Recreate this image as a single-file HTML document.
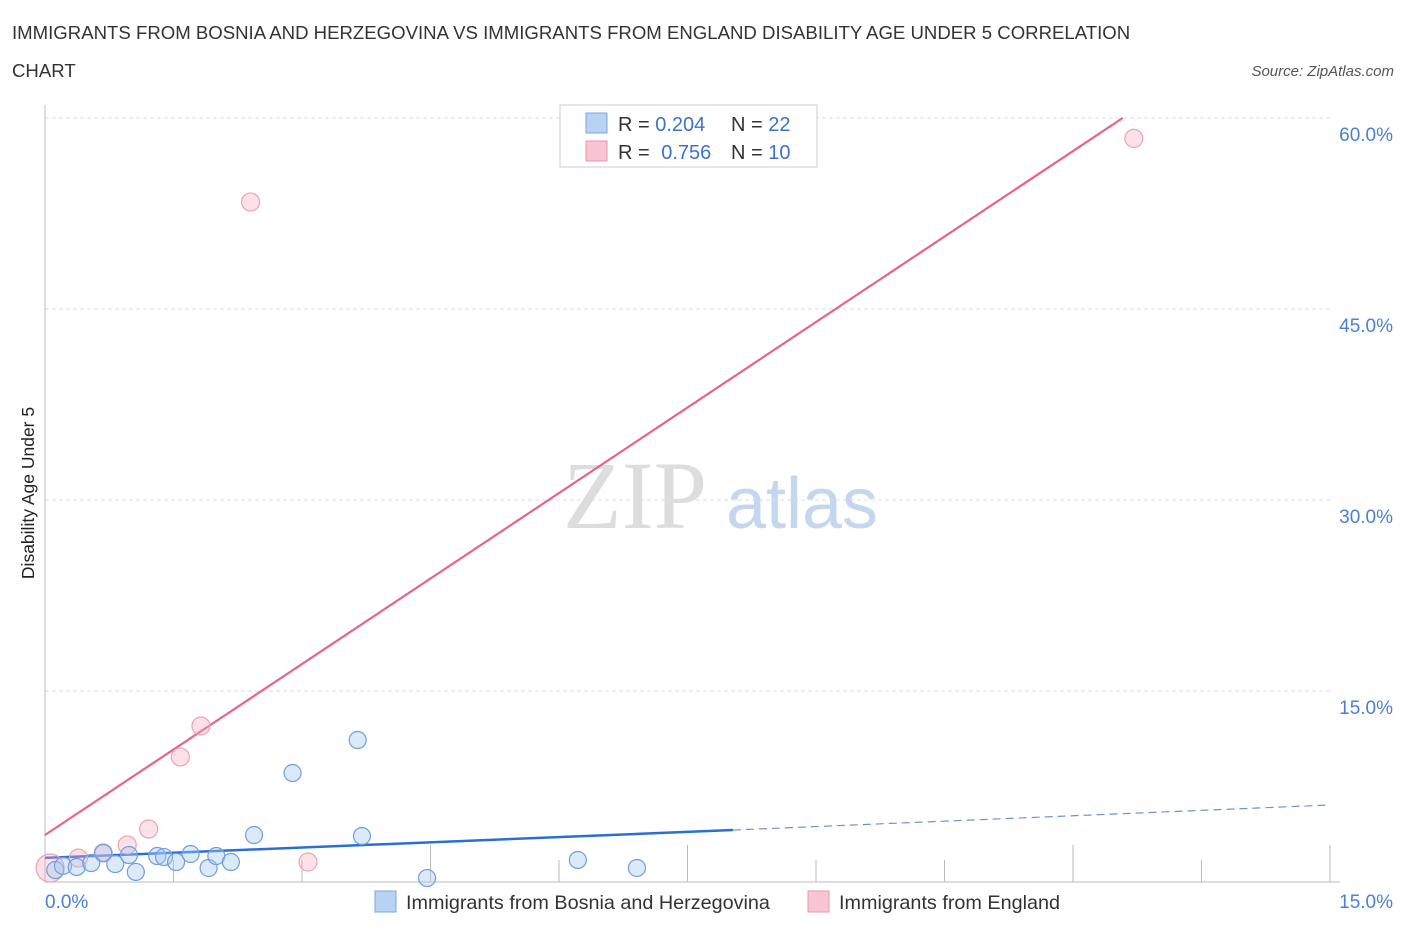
<!DOCTYPE html>
<html><head><meta charset="utf-8"><style>
body{margin:0;background:#fff;font-family:"Liberation Sans",sans-serif;}
</style></head><body>
<svg id="chart" width="1406" height="930" viewBox="0 0 1406 930" xmlns="http://www.w3.org/2000/svg" font-family="Liberation Sans, sans-serif">
<text x="12" y="39" font-size="18.6" fill="#333">IMMIGRANTS FROM BOSNIA AND HERZEGOVINA VS IMMIGRANTS FROM ENGLAND DISABILITY AGE UNDER 5 CORRELATION</text>
<text x="12" y="77" font-size="18.6" fill="#333">CHART</text>
<text x="1394" y="76" font-size="15" fill="#555" font-style="italic" text-anchor="end">Source: ZipAtlas.com</text>
<g>
<text x="635" y="528" font-size="96" fill="#ddd" style="font-family:'Liberation Serif',serif" text-anchor="middle">ZIP</text>
<text x="802" y="528" font-size="72" fill="#c5d7ef" text-anchor="middle">atlas</text>
</g>
<g id="grid"></g>
<g id="axes"></g>
<text transform="translate(34,493) rotate(-90)" font-size="17.5" fill="#222" text-anchor="middle">Disability Age Under 5</text>
<g id="lines"></g>
<g id="points"></g>
<g>
<rect x="560" y="105" width="257" height="62" fill="#fff" stroke="#ccc"/>
<rect x="586" y="113" width="21" height="20" fill="#b8d2f3" stroke="#7aa6e0"/>
<rect x="586" y="141" width="21" height="20" fill="#f9c5d3" stroke="#e995ad"/>
<text x="618" y="131" font-size="20" fill="#333">R = <tspan fill="#3b73c9">0.204</tspan><tspan x="731">N = </tspan><tspan fill="#3b73c9">22</tspan></text>
<text x="618" y="159" font-size="20" fill="#333">R = <tspan fill="#3b73c9" dx="6">0.756</tspan><tspan x="731">N = </tspan><tspan fill="#3b73c9">10</tspan></text>
</g>
<g>
<rect x="375" y="891" width="21" height="21" fill="#b8d2f3" stroke="#7aa6e0"/>
<text x="406" y="909" font-size="19.8" fill="#333">Immigrants from Bosnia and Herzegovina</text>
<rect x="808" y="891" width="21" height="21" fill="#f9c5d3" stroke="#e995ad"/>
<text x="839" y="909" font-size="19.8" fill="#333">Immigrants from England</text>
</g>
<script>
const blueX=[0.12,0.21,0.37,0.54,0.68,0.82,0.98,1.06,1.31,1.39,1.53,1.70,1.91,2.00,2.17,2.44,2.89,3.65,3.70,4.46,6.22,6.91];
const blueY=[0.94,1.26,1.18,1.49,2.28,1.41,2.12,0.79,2.04,1.96,1.57,2.20,1.10,2.04,1.57,3.69,8.56,11.15,3.61,0.31,1.73,1.10];
const pinkX=[0.06,0.39,0.68,0.96,1.21,1.58,1.82,2.40,3.07,12.71];
const pinkY=[1.10,1.88,2.28,2.91,4.16,9.82,12.25,53.4,1.57,58.4];
const pinkR=[14,9,9,9,9,9,9,9,9,9];
const yTicks=[15,30,45,60];
const yTickLabels=["15.0%","30.0%","45.0%","60.0%"];
const blueTrend=[1.89,4.08,6.05];
const blueTrendX=[0,8.03,15];
const pinkTrend=[3.69,60];
const pinkTrendX=[0,12.58];
const X0=45,X1=1330,Y0=882;
function sx(v){return X0+v*(X1-X0)/15;}
function sy(v){return Y0-v*12.733;}
const NS="http://www.w3.org/2000/svg";
function mk(tag,attrs,parent){const e=document.createElementNS(NS,tag);for(const k in attrs)e.setAttribute(k,attrs[k]);parent.appendChild(e);return e;}
const grid=document.getElementById('grid'),axes=document.getElementById('axes'),lines=document.getElementById('lines'),pts=document.getElementById('points');
yTicks.forEach((t,i)=>{
 const l=mk('line',{x1:X0,x2:X1,y1:sy(t),y2:sy(t),stroke:'#ddd','stroke-dasharray':'4,3'},grid);
 
 
 const tx=mk('text',{x:1393,y:sy(t)+23,'font-size':19,fill:'#4a80d4','text-anchor':'end'},axes);
 tx.textContent=yTickLabels[i];
 
 
});
mk('line',{x1:X0,x2:X0,y1:105,y2:Y0,stroke:'#bbb'},axes);
mk('line',{x1:X0,x2:X1+10,y1:Y0,y2:Y0,stroke:'#bbb'},axes);
for(let i=1;i<=10;i++){const x=X0+i*(X1-X0)/10;const tall=[3,5,8,10].includes(i);mk('line',{x1:x,x2:x,y1:tall?845:860,y2:Y0,stroke:'#bbb'},axes);}
const xl0=mk('text',{x:45,y:908,'font-size':19,fill:'#4a80d4'},axes);xl0.textContent="0.0%";


const xl1=mk('text',{x:1393,y:908,'font-size':19,fill:'#4a80d4','text-anchor':'end'},axes);xl1.textContent="15.0%";


const pl=mk('line',{x1:sx(pinkTrendX[0]),y1:sy(pinkTrend[0]),x2:sx(pinkTrendX[1]),y2:sy(pinkTrend[1]),stroke:'#e8638c','stroke-width':2.2},lines);


const bl=mk('line',{x1:sx(blueTrendX[0]),y1:sy(blueTrend[0]),x2:sx(blueTrendX[1]),y2:sy(blueTrend[1]),stroke:'#2a6fd6','stroke-width':2.5},lines);


const bd=mk('line',{x1:sx(blueTrendX[1]),y1:sy(blueTrend[1]),x2:sx(blueTrendX[2]),y2:sy(blueTrend[2]),stroke:'#6b94cf','stroke-width':1.2,'stroke-dasharray':'8,5'},lines);


pinkX.forEach((x,i)=>{const c=mk('circle',{cx:sx(x),cy:sy(pinkY[i]),r:pinkR[i],fill:'rgba(246,170,192,0.35)',stroke:'#eea0b6','stroke-width':1.2},pts);
 
 });
blueX.forEach((x,i)=>{const c=mk('circle',{cx:sx(x),cy:sy(blueY[i]),r:8.5,fill:'rgba(168,200,240,0.4)',stroke:'#6e9fe0','stroke-width':1.2},pts);
 
 });
</script>
</svg>
</body></html>
